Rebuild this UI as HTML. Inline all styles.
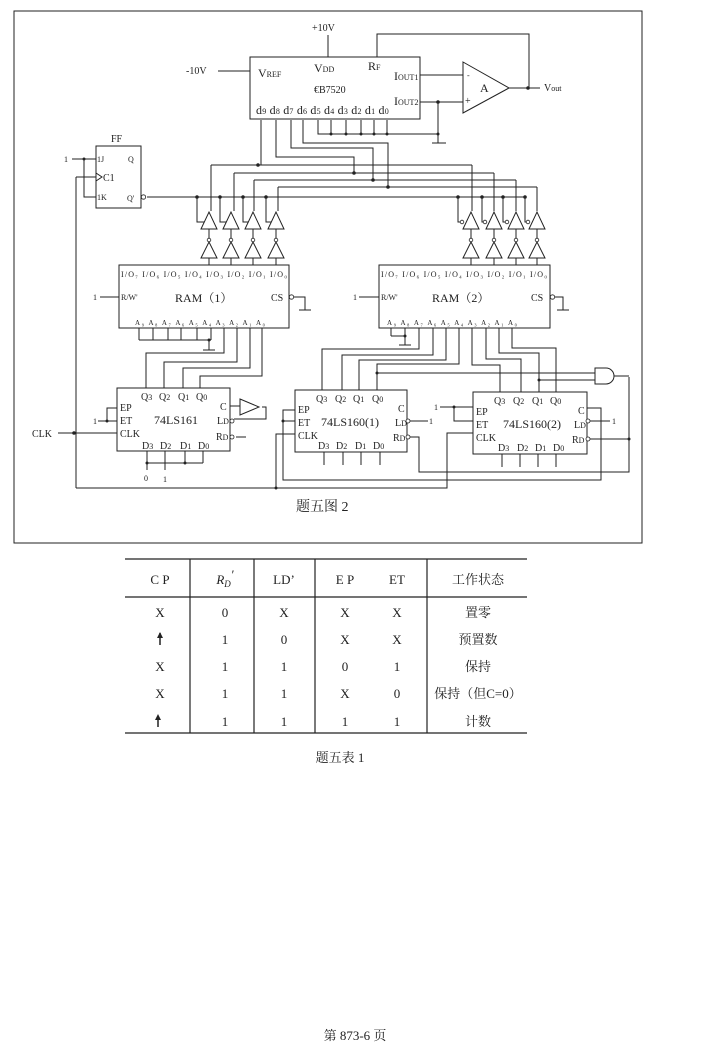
<!DOCTYPE html>
<html><head><meta charset="utf-8"><style>
html,body{margin:0;padding:0;background:#fff;}
svg{display:block}
text{font-family:"Liberation Serif","Noto Serif CJK SC",serif;fill:#222}
.s{font-size:8px}
.m{font-size:10px}
.l{font-size:12px}
</style></head><body>
<svg width="717" height="1060" viewBox="0 0 717 1060" xmlns="http://www.w3.org/2000/svg">
<g stroke="#222" stroke-width="1" fill="none">
<rect x="14" y="11" width="628" height="532"/>
<!-- DAC -->
<rect x="250" y="57" width="170" height="62"/>
<path d="M328 35V57M218 71H250M377 57V34H529V88M509 88H540M420 75H463M420 102H463M438 102V143M432 143H446"/>
<path d="M463 62L509 88L463 113Z"/>
<path d="M318 120V134H438M331 120V134M346 120V134M361 120V134M374 120V134M387 120V134"/>
<!-- d9..d6 wiring -->
<path d="M261 120V165M211 165H472M276 120V157H354V173M234 173H494M291 120V148H373V180M254 180H516M303 120V143H388V187M278 187H537"/>
<path d="M211 165V211M234 173V211M254 180V211M278 187V211M472 165V211M494 173V211M516 180V211M537 187V211"/>
<!-- FF -->
<rect x="96" y="146" width="45" height="62"/>
<path d="M72 159H96M84 159V197H96M96 173L102 177L96 181M147 197H525M76 177H96M76 177V488"/>
<!-- buffers -->
<g id="bl">
<path d="M201 229L209 212L217 229Z M209 229V242 M201 258L209 242L217 258Z M209 258V265"/>
</g>
<use href="#bl" x="22"/><use href="#bl" x="44"/><use href="#bl" x="67"/>
<use href="#bl" x="262"/><use href="#bl" x="285"/><use href="#bl" x="307"/><use href="#bl" x="328"/>
<path d="M197 197V222H204M220 197V222H226M243 197V222H248M266 197V222H271M458 197V222H462M482 197V222H485M503 197V222H507M525 197V222H528"/>
<!-- RAMs -->
<rect x="119" y="265" width="170" height="63"/>
<rect x="379" y="265" width="171" height="63"/>
<path d="M100 297H119M292 297H305V310M299 310H311M359 297H379M553 297H563V310M557 310H569"/>
<path d="M139 328V340M153 328V340M168 328V340M181 328V340M197 328V340M211 328V340M139 340H211M209 340V350M203 350H215"/>
<path d="M224 328V353H146V388M237 328V362H164V388M250 328V368H183V388M262 328V376H200V388"/>
<path d="M391 328V336M405 328V336M391 336H405M405 336V345M399 345H411"/>
<path d="M419 328V349H322V390M433 328V355H342V390M446 328V360H359V390M459 328V364H377V390M472 328V365H500V392M486 328V359H521V392M499 328V353H539V392M512 328V348H556V392"/>
<!-- counters -->
<rect x="117" y="388" width="113" height="63"/>
<rect x="295" y="390" width="112" height="62"/>
<rect x="473" y="392" width="114" height="62"/>
<path d="M98 421H117M107 421V408H117M58 433H117M76 488H447V433H473M276 488V434H295"/>
<path d="M147 451V463M165 451V463M185 451V463M203 451V463M147 463H203M147 463V470M165 463V470"/>
<path d="M230 406H240M240 399L259 407L240 415Z M262 407H266V419H234"/>
<path d="M236 437H246"/>
<path d="M410 421H428M410 437H419V472H629V377M589 439H629M590 421H610M587 408H601V480H283V410H295M283 421H295"/>
<path d="M440 407H473M454 407V421H473"/>
<path d="M324 452V465M343 452V465M361 452V465M380 452V465M502 454V467M520 454V467M538 454V467M556 454V467"/>
<path d="M377 373H595M539 380H595M595 368H606A8 8 0 0 1 606 384H595Z M614 376H629"/>
<!-- table -->
<path d="M125 559H527M125 597H527M125 733H527M190 559V733M254 559V733M315 559V733M427 559V733" stroke-width="1.2"/>
<path d="M160 645V633M158 727V716" stroke-width="1.5"/>
</g>
<g fill="#222">
<circle cx="438" cy="102" r="1.8"/><circle cx="528" cy="88" r="1.8"/>
<circle cx="331" cy="134" r="1.5"/><circle cx="346" cy="134" r="1.5"/><circle cx="361" cy="134" r="1.5"/><circle cx="374" cy="134" r="1.5"/><circle cx="387" cy="134" r="1.5"/><circle cx="438" cy="134" r="1.5"/>
<circle cx="258" cy="165" r="1.8"/><circle cx="354" cy="173" r="1.8"/><circle cx="373" cy="180" r="1.8"/><circle cx="388" cy="187" r="1.8"/>
<circle cx="84" cy="159" r="1.5"/>
<circle cx="197" cy="197" r="1.8"/><circle cx="220" cy="197" r="1.8"/><circle cx="243" cy="197" r="1.8"/><circle cx="266" cy="197" r="1.8"/>
<circle cx="458" cy="197" r="1.8"/><circle cx="482" cy="197" r="1.8"/><circle cx="503" cy="197" r="1.8"/><circle cx="525" cy="197" r="1.8"/>
<circle cx="209" cy="340" r="1.5"/><circle cx="405" cy="336" r="1.5"/>
<circle cx="107" cy="421" r="1.5"/><circle cx="74" cy="433" r="1.8"/><circle cx="276" cy="488" r="1.5"/>
<circle cx="147" cy="463" r="1.5"/><circle cx="185" cy="463" r="1.5"/>
<circle cx="283" cy="421" r="1.5"/><circle cx="454" cy="407" r="1.5"/>
<circle cx="377" cy="373" r="1.5"/><circle cx="539" cy="380" r="1.5"/><circle cx="629" cy="439" r="1.5"/>
</g>
<g fill="#fff" stroke="#222" stroke-width="0.8">
<circle cx="143.5" cy="197" r="2.2"/><circle cx="291.5" cy="297" r="2.2"/><circle cx="552.5" cy="297" r="2.2"/>
<circle cx="408" cy="421" r="2"/><circle cx="408" cy="437" r="2"/><circle cx="588" cy="421" r="2"/><circle cx="588" cy="439" r="2"/>
<circle cx="232" cy="421" r="2"/><circle cx="232" cy="437" r="2"/>
<circle cx="209" cy="240" r="1.8"/><circle cx="231" cy="240" r="1.8"/><circle cx="253" cy="240" r="1.8"/><circle cx="276" cy="240" r="1.8"/>
<circle cx="471" cy="240" r="1.8"/><circle cx="494" cy="240" r="1.8"/><circle cx="516" cy="240" r="1.8"/><circle cx="537" cy="240" r="1.8"/>
<circle cx="462" cy="222" r="1.8"/><circle cx="485" cy="222" r="1.8"/><circle cx="507" cy="222" r="1.8"/><circle cx="528" cy="222" r="1.8"/>
</g>
<!-- labels -->
<text x="312" y="31" class="m">+10V</text>
<text x="186" y="74" class="m">-10V</text>
<text x="258" y="77" class="l">V<tspan class="s">REF</tspan></text>
<text x="314" y="72" class="l">V<tspan class="s">DD</tspan></text>
<text x="368" y="70" class="l">R<tspan class="s">F</tspan></text>
<text x="394" y="80" class="l">I<tspan class="s">OUT1</tspan></text>
<text x="394" y="105" class="l">I<tspan class="s">OUT2</tspan></text>
<text x="314" y="93" class="m">€B7520</text>
<text x="256" y="114" class="l" letter-spacing="0.2">d<tspan class="s">9</tspan> d<tspan class="s">8</tspan> d<tspan class="s">7</tspan> d<tspan class="s">6</tspan> d<tspan class="s">5</tspan> d<tspan class="s">4</tspan> d<tspan class="s">3</tspan> d<tspan class="s">2</tspan> d<tspan class="s">1</tspan> d<tspan class="s">0</tspan></text>
<text x="467" y="78" class="s">-</text><text x="465" y="104" class="m">+</text>
<text x="480" y="92" class="l">A</text>
<text x="544" y="91" class="m">V<tspan class="s">out</tspan></text>
<text x="111" y="142" class="m">FF</text>
<text x="64" y="162" class="s">1</text>
<text x="97" y="162" class="s">1J</text><text x="128" y="162" class="s">Q</text>
<text x="103" y="181" class="m">C1</text>
<text x="97" y="200" class="s">1K</text><text x="127" y="201" class="s">Q'</text>
<text x="121" y="277" class="s" font-size="7" textLength="166">I/O₇ I/O₆ I/O₅ I/O₄ I/O₃ I/O₂ I/O₁ I/O₀</text>
<text x="381" y="277" class="s" font-size="7" textLength="166">I/O₇ I/O₆ I/O₅ I/O₄ I/O₃ I/O₂ I/O₁ I/O₀</text>
<text x="93" y="300" class="s">1</text><text x="121" y="300" class="s">R/W'</text>
<text x="175" y="302" class="l">RAM（1）</text><text x="271" y="301" class="m">CS</text>
<text x="353" y="300" class="s">1</text><text x="381" y="300" class="s">R/W'</text>
<text x="432" y="302" class="l">RAM（2）</text><text x="531" y="301" class="m">CS</text>
<text x="135" y="325" font-size="7" textLength="130">A₉ A₈ A₇ A₆ A₅ A₄ A₃ A₂ A₁ A₀</text>
<text x="387" y="325" font-size="7" textLength="130">A₉ A₈ A₇ A₆ A₅ A₄ A₃ A₂ A₁ A₀</text>
<!-- 161 -->
<text x="141" y="400" class="m">Q<tspan class="s">3</tspan></text><text x="159" y="400" class="m">Q<tspan class="s">2</tspan></text><text x="178" y="400" class="m">Q<tspan class="s">1</tspan></text><text x="196" y="400" class="m">Q<tspan class="s">0</tspan></text>
<text x="120" y="411" class="m">EP</text><text x="120" y="424" class="m">ET</text><text x="120" y="437" class="m">CLK</text>
<text x="154" y="424" class="l">74LS161</text>
<text x="220" y="410" class="m">C</text><text x="217" y="424" class="m">L<tspan class="s">D</tspan></text><text x="216" y="440" class="m">R<tspan class="s">D</tspan></text>
<text x="142" y="449" class="m">D<tspan class="s">3</tspan></text><text x="160" y="449" class="m">D<tspan class="s">2</tspan></text><text x="180" y="449" class="m">D<tspan class="s">1</tspan></text><text x="198" y="449" class="m">D<tspan class="s">0</tspan></text>
<text x="93" y="424" class="s">1</text>
<text x="32" y="437" class="m">CLK</text>
<text x="144" y="481" class="s">0</text><text x="163" y="482" class="s">1</text>
<!-- 160(1) -->
<text x="316" y="402" class="m">Q<tspan class="s">3</tspan></text><text x="335" y="402" class="m">Q<tspan class="s">2</tspan></text><text x="353" y="402" class="m">Q<tspan class="s">1</tspan></text><text x="372" y="402" class="m">Q<tspan class="s">0</tspan></text>
<text x="298" y="413" class="m">EP</text><text x="298" y="426" class="m">ET</text><text x="298" y="439" class="m">CLK</text>
<text x="321" y="426" class="l">74LS160(1)</text>
<text x="398" y="412" class="m">C</text><text x="395" y="426" class="m">L<tspan class="s">D</tspan></text><text x="393" y="441" class="m">R<tspan class="s">D</tspan></text>
<text x="318" y="449" class="m">D<tspan class="s">3</tspan></text><text x="336" y="449" class="m">D<tspan class="s">2</tspan></text><text x="355" y="449" class="m">D<tspan class="s">1</tspan></text><text x="373" y="449" class="m">D<tspan class="s">0</tspan></text>
<text x="429" y="424" class="s">1</text>
<!-- 160(2) -->
<text x="494" y="404" class="m">Q<tspan class="s">3</tspan></text><text x="513" y="404" class="m">Q<tspan class="s">2</tspan></text><text x="532" y="404" class="m">Q<tspan class="s">1</tspan></text><text x="550" y="404" class="m">Q<tspan class="s">0</tspan></text>
<text x="476" y="415" class="m">EP</text><text x="476" y="428" class="m">ET</text><text x="476" y="441" class="m">CLK</text>
<text x="503" y="428" class="l">74LS160(2)</text>
<text x="578" y="414" class="m">C</text><text x="574" y="428" class="m">L<tspan class="s">D</tspan></text><text x="572" y="443" class="m">R<tspan class="s">D</tspan></text>
<text x="498" y="451" class="m">D<tspan class="s">3</tspan></text><text x="517" y="451" class="m">D<tspan class="s">2</tspan></text><text x="535" y="451" class="m">D<tspan class="s">1</tspan></text><text x="553" y="451" class="m">D<tspan class="s">0</tspan></text>
<text x="434" y="410" class="s">1</text><text x="612" y="424" class="s">1</text>
<text x="296" y="511" font-size="14">题五图 2</text>
<!-- table text -->
<g font-size="13" text-anchor="middle">
<text x="160" y="584">C P</text><text x="225" y="584" font-style="italic">R<tspan font-size="9" dy="3">D</tspan><tspan dy="-8">′</tspan></text><text x="284" y="584">LD’</text><text x="345" y="584">E P</text><text x="397" y="584">ET</text><text x="478" y="584">工作状态</text>
<text x="160" y="617">X</text><text x="225" y="617">0</text><text x="284" y="617">X</text><text x="345" y="617">X</text><text x="397" y="617">X</text><text x="478" y="617">置零</text>
<text x="225" y="644">1</text><text x="284" y="644">0</text><text x="345" y="644">X</text><text x="397" y="644">X</text><text x="478" y="644">预置数</text>
<text x="160" y="671">X</text><text x="225" y="671">1</text><text x="284" y="671">1</text><text x="345" y="671">0</text><text x="397" y="671">1</text><text x="478" y="671">保持</text>
<text x="160" y="698">X</text><text x="225" y="698">1</text><text x="284" y="698">1</text><text x="345" y="698">X</text><text x="397" y="698">0</text><text x="478" y="698">保持（但C=0）</text>
<text x="225" y="726">1</text><text x="284" y="726">1</text><text x="345" y="726">1</text><text x="397" y="726">1</text><text x="478" y="726">计数</text>
<text x="340" y="762">题五表 1</text>
<text x="355" y="1040">第 873-6  页</text>
</g>
<path d="M160 632L157 638H163Z M158 714L155 720H161Z" fill="#222"/>
</svg>
</body></html>
